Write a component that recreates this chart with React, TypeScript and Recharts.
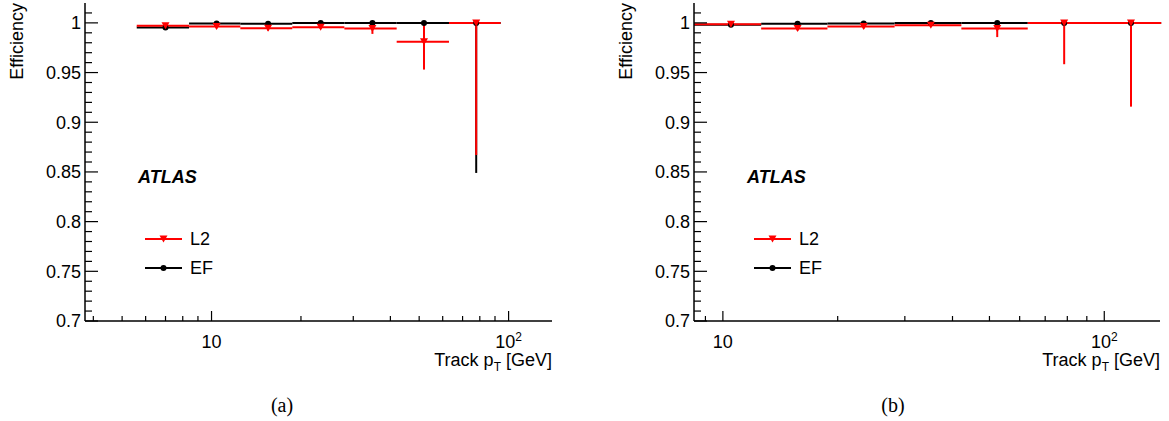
import React from "react";
import { ComposedChart, Scatter, XAxis, YAxis, ErrorBar, Legend } from "recharts";

// (a) bins, points and efficiencies
const binLowA = [5.6, 8.4, 12.5, 18.7, 28.0, 42.0, 63.0];
const binHighA = [8.4, 12.5, 18.7, 28.0, 42.0, 63.0, 94.0];
const ptA = [7.0, 10.4, 15.5, 23.3, 34.8, 51.9, 77.8];
const efA = [0.9953, 0.9993, 0.999, 1.0, 1.0, 1.0, 1.0];
const efErrLowA = [0.001, 0.0006, 0.0006, 0.0004, 0.0005, 0.001, 0.151];
const efErrHighA = [0.001, 0.0006, 0.0006, 0, 0, 0, 0];
const l2A = [0.997, 0.9963, 0.9947, 0.9957, 0.9944, 0.981, 1.0];
const l2ErrLowA = [0.0012, 0.0018, 0.0024, 0.0015, 0.0055, 0.028, 0.133];
const l2ErrHighA = [0.001, 0.0015, 0.0015, 0.0012, 0.004, 0.019, 0];

// (b)
const binLowB = [8.4, 12.6, 18.8, 28.2, 42.2, 63.0, 94.0];
const binHighB = [12.6, 18.8, 28.2, 42.2, 63.0, 94.0, 141.0];
const ptB = [10.5, 15.7, 23.4, 35.1, 52.4, 78.5, 117.5];
const efB = [0.998, 0.999, 0.9994, 1.0, 1.0, 1.0, 1.0];
const efErrLowB = [0.0008, 0.0006, 0.0005, 0.0004, 0.0006, 0.002, 0.004];
const efErrHighB = [0.0008, 0.0006, 0.0005, 0, 0, 0, 0];
const l2B = [0.9987, 0.9944, 0.9963, 0.9977, 0.9944, 1.0, 1.0];
const l2ErrLowB = [0.0008, 0.002, 0.002, 0.0012, 0.0087, 0.0416, 0.0843];
const l2ErrHighB = [0.0006, 0.0012, 0.001, 0.001, 0.0036, 0, 0];

const yMajorTicks = [0.7, 0.75, 0.8, 0.85, 0.9, 0.95, 1];
const xTicksA = [4, 5, 6, 7, 8, 9, 10, 20, 30, 40, 50, 60, 70, 80, 90, 100];
const xTicksB = [9, 10, 20, 30, 40, 50, 60, 70, 80, 90, 100];
const xMajorTicks = [10, 100];
const legendOrder = ["L2", "EF"];

const FONT = '"Liberation Sans", Arial, Helvetica, sans-serif';
const RED = "#ff0000";

const yTicks: number[] = [];
for (let i = 0; i <= 31; i++) yTicks.push(Math.round((0.7 + i * 0.01) * 100) / 100);
const isMajorY = (v: number) => yMajorTicks.some((m) => Math.abs(m - v) < 1e-6);

function buildRows(pt, lo, hi, val, eLo, eHi) {
  return pt.map((x, i) => ({
    x,
    y: val[i],
    xErr: [x - lo[i], hi[i] - x],
    yErr: [eLo[i], eHi[i]],
  }));
}

const XTickBottom = (props) => {
  const { x, y, payload } = props;
  const v = payload.value;
  const major = xMajorTicks.includes(v);
  return (
    <g>
      <line x1={x} x2={x} y1={y} y2={y - (major ? 10 : 5)} stroke="#000" strokeWidth={1.2} />
      {major && (
        <text x={x} y={y + 27} textAnchor="middle" fontSize={18} fontFamily={FONT} fill="#000">
          {v === 100 ? (
            <>
              10<tspan dy={-7} fontSize={12}>2</tspan>
            </>
          ) : (
            "10"
          )}
        </text>
      )}
    </g>
  );
};

const XTickTop = (props) => {
  const { x, y, payload } = props;
  const major = xMajorTicks.includes(payload.value);
  return <line x1={x} x2={x} y1={y} y2={y + (major ? 10 : 5)} stroke="#000" strokeWidth={1.2} />;
};

const YTickLeft = (props) => {
  const { x, y, payload } = props;
  const v = payload.value;
  const major = isMajorY(v);
  return (
    <g>
      <line x1={x} x2={x + (major ? 13 : 7)} y1={y} y2={y} stroke="#000" strokeWidth={1.2} />
      {major && (
        <text x={x - 4} y={y} dy="0.36em" textAnchor="end" fontSize={18} fontFamily={FONT} fill="#000">
          {String(v)}
        </text>
      )}
    </g>
  );
};

const YTickRight = (props) => {
  const { x, y, payload } = props;
  const major = isMajorY(payload.value);
  return <line x1={x} x2={x - (major ? 13 : 7)} y1={y} y2={y} stroke="#000" strokeWidth={1.2} />;
};

const YTitle = (props) => {
  const { viewBox } = props;
  const bx = viewBox.x + viewBox.width - 62;
  return (
    <text x={bx} y={3} transform={`rotate(-90, ${bx}, 3)`} textAnchor="end" fontSize={18} fontFamily={FONT} fill="#000">
      Efficiency
    </text>
  );
};

const XTitle = (props) => {
  const { viewBox } = props;
  const rx = viewBox.x + viewBox.width;
  const by = viewBox.y + 45;
  return (
    <text x={rx} y={by} textAnchor="end" fontSize={18} fontFamily={FONT} fill="#000">
      Track p
      <tspan dy={5} fontSize={12}>T</tspan>
      <tspan dy={-5}> [GeV]</tspan>
    </text>
  );
};

const DownTriangle = (props) => {
  const { cx, cy } = props;
  return <polygon points={`${cx - 4},${cy - 3.5} ${cx + 4},${cy - 3.5} ${cx},${cy + 3.5}`} fill={RED} />;
};

const Dot = (props) => {
  const { cx, cy } = props;
  return <circle cx={cx} cy={cy} r={3} fill="#000" />;
};

const LegendBox = (props) => {
  const items = [...(props.payload || [])]
    .filter((p) => legendOrder.includes(p.value))
    .sort((a, b) => legendOrder.indexOf(a.value) - legendOrder.indexOf(b.value));
  return (
    <div style={{ fontFamily: FONT, fontSize: 18, color: "#000" }}>
      {items.map((it) => {
        const c = it.value === "L2" ? RED : "#000";
        return (
          <div key={it.value} style={{ display: "flex", alignItems: "center", height: 29 }}>
            <svg width={37} height={10} style={{ display: "block" }}>
              <line x1={0} x2={37} y1={5} y2={5} stroke={c} strokeWidth={2} />
              {it.value === "L2" ? (
                <polygon points="14.5,1.5 22.5,1.5 18.5,8.5" fill={RED} />
              ) : (
                <circle cx={18.5} cy={5} r={3} fill="#000" />
              )}
            </svg>
            <span style={{ marginLeft: 8, lineHeight: "18px" }}>{it.value}</span>
          </div>
        );
      })}
    </div>
  );
};

function Panel({ left, width, yAxisWidth, rightMargin, domain, xTicks, ef, l2, caption, captionX }) {
  const plotLeft = yAxisWidth;
  return (
    <div style={{ position: "absolute", left, top: 0, width, height: 421 }}>
      <ComposedChart width={width} height={390} margin={{ top: 3, right: rightMargin, left: 0, bottom: 0 }}>
        <XAxis
          xAxisId="b"
          dataKey="x"
          type="number"
          scale="log"
          domain={domain}
          allowDataOverflow
          ticks={xTicks}
          interval={0}
          height={69}
          tickSize={0}
          tickMargin={0}
          tickLine={false}
          tick={(p) => <XTickBottom {...p} />}
          axisLine={{ stroke: "#000", strokeWidth: 1.5 }}
          label={<XTitle />}
        />
        <XAxis
          xAxisId="t"
          orientation="top"
          dataKey="x"
          type="number"
          scale="log"
          domain={domain}
          allowDataOverflow
          ticks={xTicks}
          interval={0}
          height={0}
          tickSize={0}
          tickMargin={0}
          tickLine={false}
          tick={(p) => <XTickTop {...p} />}
          axisLine={{ stroke: "#000", strokeWidth: 1.5 }}
        />
        <YAxis
          yAxisId="l"
          type="number"
          domain={[0.7, 1.02]}
          allowDataOverflow
          ticks={yTicks}
          interval={0}
          width={yAxisWidth}
          tickSize={0}
          tickMargin={0}
          tickLine={false}
          tick={(p) => <YTickLeft {...p} />}
          axisLine={{ stroke: "#000", strokeWidth: 1.5 }}
          label={<YTitle />}
        />
        <YAxis
          yAxisId="r"
          orientation="right"
          type="number"
          domain={[0.7, 1.02]}
          allowDataOverflow
          ticks={yTicks}
          interval={0}
          width={0}
          tickSize={0}
          tickMargin={0}
          tickLine={false}
          tick={(p) => <YTickRight {...p} />}
          axisLine={{ stroke: "#000", strokeWidth: 1.5 }}
        />
        <Scatter
          data={ef}
          xAxisId="t"
          yAxisId="r"
          dataKey="y"
          shape={() => null}
          legendType="none"
          isAnimationActive={false}
        />
        <Scatter name="EF" data={ef} xAxisId="b" yAxisId="l" dataKey="y" fill="#000" shape={(p) => <Dot {...p} />} isAnimationActive={false}>
          <ErrorBar dataKey="xErr" direction="x" width={0} stroke="#000" strokeWidth={2} />
          <ErrorBar dataKey="yErr" direction="y" width={0} stroke="#000" strokeWidth={2} />
        </Scatter>
        <Scatter name="L2" data={l2} xAxisId="b" yAxisId="l" dataKey="y" fill={RED} shape={(p) => <DownTriangle {...p} />} isAnimationActive={false}>
          <ErrorBar dataKey="xErr" direction="x" width={0} stroke={RED} strokeWidth={2} />
          <ErrorBar dataKey="yErr" direction="y" width={0} stroke={RED} strokeWidth={2} />
        </Scatter>
        <Legend
          layout="vertical"
          align="center"
          verticalAlign="middle"
          content={(p) => <LegendBox {...p} />}
          wrapperStyle={{ left: plotLeft + 60, top: 224.5, width: 90 }}
        />
      </ComposedChart>
      <div
        style={{
          position: "absolute",
          left: plotLeft + 53,
          top: 168,
          fontFamily: FONT,
          fontSize: 18,
          lineHeight: "18px",
          fontWeight: "bold",
          fontStyle: "italic",
        }}
      >
        ATLAS
      </div>
      <div
        style={{
          position: "absolute",
          left: captionX - 40,
          width: 80,
          top: 395,
          textAlign: "center",
          fontFamily: '"Liberation Serif", "Times New Roman", serif',
          fontSize: 20,
          lineHeight: "20px",
        }}
      >
        {caption}
      </div>
    </div>
  );
}

export default function App() {
  const efRowsA = buildRows(ptA, binLowA, binHighA, efA, efErrLowA, efErrHighA);
  const l2RowsA = buildRows(ptA, binLowA, binHighA, l2A, l2ErrLowA, l2ErrHighA);
  const efRowsB = buildRows(ptB, binLowB, binHighB, efB, efErrLowB, efErrHighB);
  const l2RowsB = buildRows(ptB, binLowB, binHighB, l2B, l2ErrLowB, l2ErrHighB);
  return (
    <div style={{ position: "relative", width: 1169, height: 421, background: "#fff" }}>
      <style>{`body{margin:0}`}</style>
      <Panel
        left={0}
        width={584}
        yAxisWidth={85}
        rightMargin={32}
        domain={[3.75, 140]}
        xTicks={xTicksA}
        ef={efRowsA}
        l2={l2RowsA}
        caption="(a)"
        captionX={282}
      />
      <Panel
        left={584}
        width={585}
        yAxisWidth={110}
        rightMargin={9}
        domain={[8.4, 140]}
        xTicks={xTicksB}
        ef={efRowsB}
        l2={l2RowsB}
        caption="(b)"
        captionX={309}
      />
    </div>
  );
}
